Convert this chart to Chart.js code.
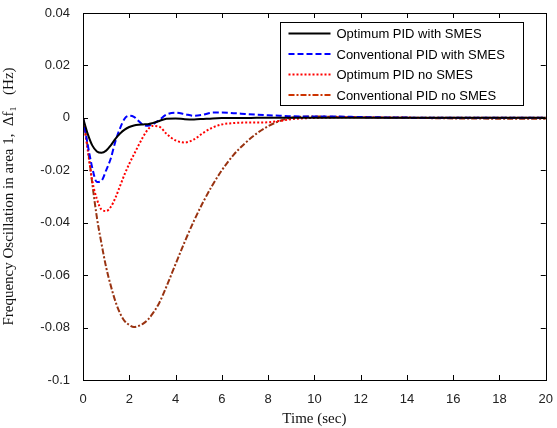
<!DOCTYPE html>
<html>
<head>
<meta charset="utf-8">
<script src="https://cdn.jsdelivr.net/npm/chart.js@4"></script>
<style>
  html, body { margin: 0; padding: 0; background: #fff; }
  #wrap { width: 557px; height: 428px; }
</style>
</head>
<body>
<div id="wrap"><canvas id="myChartFreq"></canvas></div>
<script>
// tiempos (s)
const time_s = [0, 0.2, 0.4, 0.6, 0.8, 1.0, 1.2, 1.4, 1.6, 1.8, 2.0, 2.2, 2.4, 2.6, 2.8, 3.0, 3.3, 3.6, 4.0, 4.4, 4.8, 5.2, 5.6, 6.0, 6.5, 7.0, 7.5, 8.0, 8.5, 9.0, 10, 11, 12, 14, 16, 18, 20];

// Optimum PID with SMES
const optWithSmes = [0, -0.006, -0.0105, -0.0128, -0.0133, -0.0125, -0.0105, -0.0080, -0.0060, -0.0045, -0.0035, -0.0029, -0.0026, -0.0025, -0.0024, -0.0020, -0.0012, -0.0003, -0.0002, -0.0005, -0.0006, -0.0004, -0.0002, -0.0001, -0.0001, -0.0001, 0, 0, 0, 0, 0, 0, 0, 0, 0, 0, 0];
// Conventional PID with SMES
const convWithSmes = [0, -0.010, -0.019, -0.0245, -0.0240, -0.020, -0.0155, -0.009, -0.004, -0.0003, 0.0008, 0.0004, -0.0012, -0.0027, -0.0030, -0.0025, -0.0008, 0.0012, 0.0020, 0.0014, 0.0008, 0.0012, 0.0020, 0.0020, 0.0018, 0.0015, 0.0012, 0.0010, 0.0008, 0.0006, 0.0005, 0.0005, 0.0003, 0.0001, 0, 0, 0];
// Optimum PID no SMES
const optNoSmes = [0, -0.012, -0.024, -0.031, -0.035, -0.0355, -0.034, -0.0305, -0.026, -0.0215, -0.0175, -0.0140, -0.0105, -0.0072, -0.0045, -0.0031, -0.0034, -0.0060, -0.0086, -0.0094, -0.0082, -0.0057, -0.0037, -0.0025, -0.0020, -0.0018, -0.0018, -0.0017, -0.0012, -0.0005, 0, 0.0002, 0.0002, 0.0001, 0, 0, 0];
// Conventional PID no SMES
const convNoSmes = [0, -0.011, -0.025, -0.038, -0.048, -0.057, -0.064, -0.070, -0.0745, -0.0775, -0.079, -0.0798, -0.0794, -0.0785, -0.0770, -0.0748, -0.0705, -0.0645, -0.0558, -0.0472, -0.0392, -0.0320, -0.0256, -0.0200, -0.0142, -0.0097, -0.0060, -0.0032, -0.0012, 0, 0.0005, 0.0004, 0.0002, 0, -0.0002, -0.0003, -0.0003];

const xTicks = [0, 2, 4, 6, 8, 10, 12, 14, 16, 18, 20];
const yTicks = [0.04, 0.02, 0, -0.02, -0.04, -0.06, -0.08, -0.1];

function toXY(ys) {
	return time_s.map((t, i) => ({ x: t, y: ys[i] }));
}

// caja estilo MATLAB con marcas hacia adentro + leyenda dentro del area
const boxPlugin = {
	id: "boxPlugin",
	afterDatasetsDraw(chart) {
		const c = chart.ctx;
		const a = chart.chartArea;
		const sx = chart.scales.x;
		const sy = chart.scales.y;
		c.save();
		c.strokeStyle = "#000";
		c.lineWidth = 1;
		c.setLineDash([]);
		c.strokeRect(Math.round(a.left) + 0.5, Math.round(a.top) + 0.5, Math.round(a.right - a.left), Math.round(a.bottom - a.top));
		c.beginPath();
		xTicks.forEach(v => {
			const px = Math.round(sx.getPixelForValue(v)) + 0.5;
			c.moveTo(px, a.bottom); c.lineTo(px, a.bottom - 5);
			c.moveTo(px, a.top); c.lineTo(px, a.top + 5);
		});
		yTicks.forEach(v => {
			const py = Math.round(sy.getPixelForValue(v)) + 0.5;
			c.moveTo(a.left, py); c.lineTo(a.left + 5, py);
			c.moveTo(a.right, py); c.lineTo(a.right - 5, py);
		});
		c.stroke();

		// leyenda
		const bw = 243, bh = 83;
		const bx = Math.round(a.right - 23 - bw) + 0.5;
		const by = Math.round(a.top + 9) + 0.5;
		c.fillStyle = "#fff";
		c.fillRect(bx, by, bw, bh);
		c.strokeRect(bx, by, bw, bh);
		c.font = "13px 'Liberation Sans', Arial, sans-serif";
		c.textBaseline = "middle";
		chart.data.datasets.forEach((ds, i) => {
			const yy = by + 11 + i * 20.5;
			c.strokeStyle = ds.legendColor || ds.borderColor;
			c.lineWidth = 2;
			c.setLineDash(ds.borderDash || []);
			c.beginPath();
			c.moveTo(bx + 8, yy); c.lineTo(bx + 50, yy);
			c.stroke();
			c.fillStyle = "#000";
			c.fillText(ds.label, bx + 56, yy + 1);
		});
		c.restore();
	}
};

const ctx1 = document.getElementById("myChartFreq").getContext("2d");

let myChartFreq = new Chart(ctx1, {
	type: "line",
	data: {
		datasets: [
			{
				label: "Optimum PID with SMES",
				data: toXY(optWithSmes),
				borderColor: "#000000",
				borderWidth: 2,
			},
			{
				label: "Conventional PID with SMES",
				data: toXY(convWithSmes),
				borderColor: "#0000ff",
				borderWidth: 2,
				borderDash: [6, 3],
			},
			{
				label: "Optimum PID no SMES",
				data: toXY(optNoSmes),
				borderColor: "#ff0000",
				borderWidth: 2,
				borderDash: [2, 2],
			},
			{
				label: "Conventional PID no SMES",
				data: toXY(convNoSmes),
				borderColor: "#993311",
				legendColor: "#cc3300",
				borderWidth: 2,
				borderDash: [6, 2, 2, 2],
			}
		],
	},
	options: {
		responsive: true,
		maintainAspectRatio: false,
		animation: false,
		layout: {
			padding: { left: 0, right: 8, top: 13, bottom: 0 }
		},
		elements: {
			point: { radius: 0 },
			line: { cubicInterpolationMode: "monotone", fill: false }
		},
		scales: {
			x: {
				type: "linear",
				min: 0,
				max: 20,
				grid: { display: false },
				border: { display: false },
				ticks: {
					stepSize: 2,
					color: "#222",
					padding: 4,
					font: { family: "'Liberation Sans', Arial, sans-serif", size: 13 },
				},
				title: {
					display: true,
					text: "Time (sec)",
					color: "#111",
					padding: { top: 2, bottom: 0 },
					font: { family: "'Liberation Serif', 'Times New Roman', serif", size: 15 },
				},
				afterFit(scale) { scale.height = 48; }
			},
			y: {
				min: -0.1,
				max: 0.04,
				grid: { display: false },
				border: { display: false },
				ticks: {
					stepSize: 0.02,
					color: "#222",
					padding: 5,
					font: { family: "'Liberation Sans', Arial, sans-serif", size: 13 },
					callback: v => String(+v.toFixed(2)),
				},
				title: {
					display: true,
					text: "Frequency Oscillation in area 1,  \u0394f\u2081   (Hz)",
					color: "#111",
					padding: { top: 0, bottom: 4 },
					font: { family: "'Liberation Serif', 'Times New Roman', serif", size: 15 },
				},
				afterFit(scale) { scale.width = 83; }
			}
		},
		plugins: {
			legend: { display: false },
			tooltip: { enabled: false }
		}
	},
	plugins: [boxPlugin]
});
</script>
</body>
</html>
